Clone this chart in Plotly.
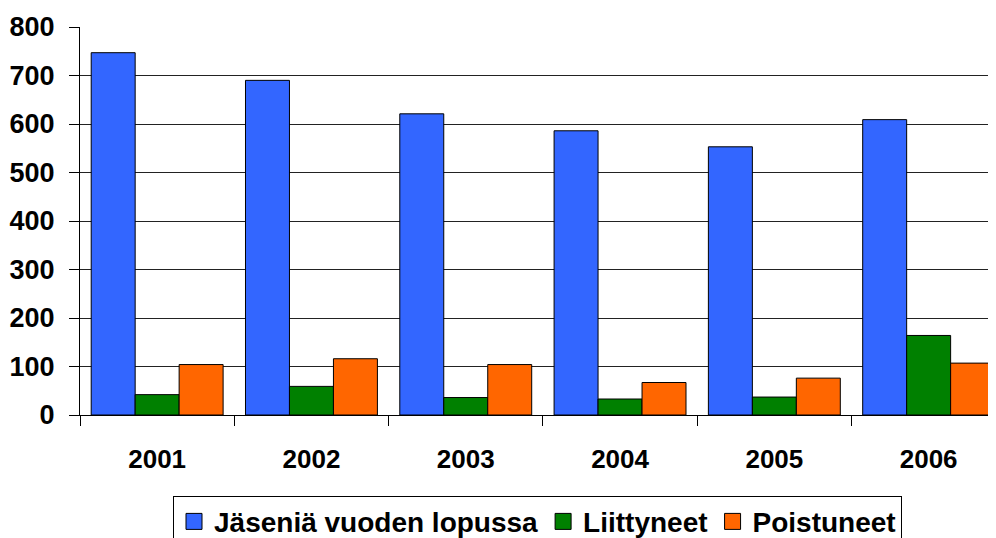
import plotly.graph_objects as go

years = ["2001", "2002", "2003", "2004", "2005", "2006"]
jasenia = [747, 690, 621, 586, 553, 609]
liittyneet = [42, 59, 36, 33, 37, 164]
poistuneet = [104, 116, 104, 67, 76, 107]

series_names = ["Jäseniä vuoden lopussa", "Liittyneet", "Poistuneet"]
colors = ["#3366FF", "#008000", "#FF6600"]

font_family = "Liberation Sans, Arial, sans-serif"

fig = go.Figure()
for name, vals, col in zip(series_names, [jasenia, liittyneet, poistuneet], colors):
    fig.add_trace(go.Bar(
        x=years, y=vals, name=name, showlegend=False,
        marker=dict(color=col, line=dict(color="#000000", width=1)),
    ))
# legend entries with larger square swatches
for name, col in zip(series_names, colors):
    fig.add_trace(go.Scatter(
        x=[None], y=[None], mode="markers", name=name,
        marker=dict(symbol="square", size=20, color=col,
                    line=dict(color="#000000", width=1)),
    ))

# page body has an 8px margin, so the figure is sized/offset to compensate
fig.update_layout(
    width=988, height=530,
    margin=dict(l=72, r=1, t=19, b=123, autoexpand=False),
    paper_bgcolor="white", plot_bgcolor="white",
    barmode="group", bargap=0.145, bargroupgap=0,
    font=dict(family=font_family, size=26, color="black"),
    showlegend=True,
    legend=dict(
        orientation="h", x=0.5, xanchor="center", y=-0.208, yanchor="top",
        bordercolor="black", borderwidth=1, bgcolor="white",
        font=dict(family=font_family, size=28, color="black", weight="bold"),
        itemsizing="trace", tracegroupgap=0, itemwidth=30,
    ),
    xaxis=dict(
        type="category", range=[-0.5, 5.43], automargin=False,
        showline=True, linecolor="black", linewidth=1,
        ticks="outside", tickson="boundaries", ticklen=10, tickcolor="black",
        tickfont=dict(family=font_family, size=26, weight="bold"),
        ticklabelstandoff=21,
        showgrid=False,
    ),
    yaxis=dict(
        range=[0, 800], dtick=100, automargin=False,
        showline=True, linecolor="black", linewidth=1,
        ticks="outside", ticklen=10, tickcolor="black",
        tickfont=dict(family=font_family, size=27, weight="bold"),
        ticklabelstandoff=9,
        showgrid=True, gridcolor="#222222", gridwidth=1,
        zeroline=False,
    ),
)

fig.write_html("out.html")
